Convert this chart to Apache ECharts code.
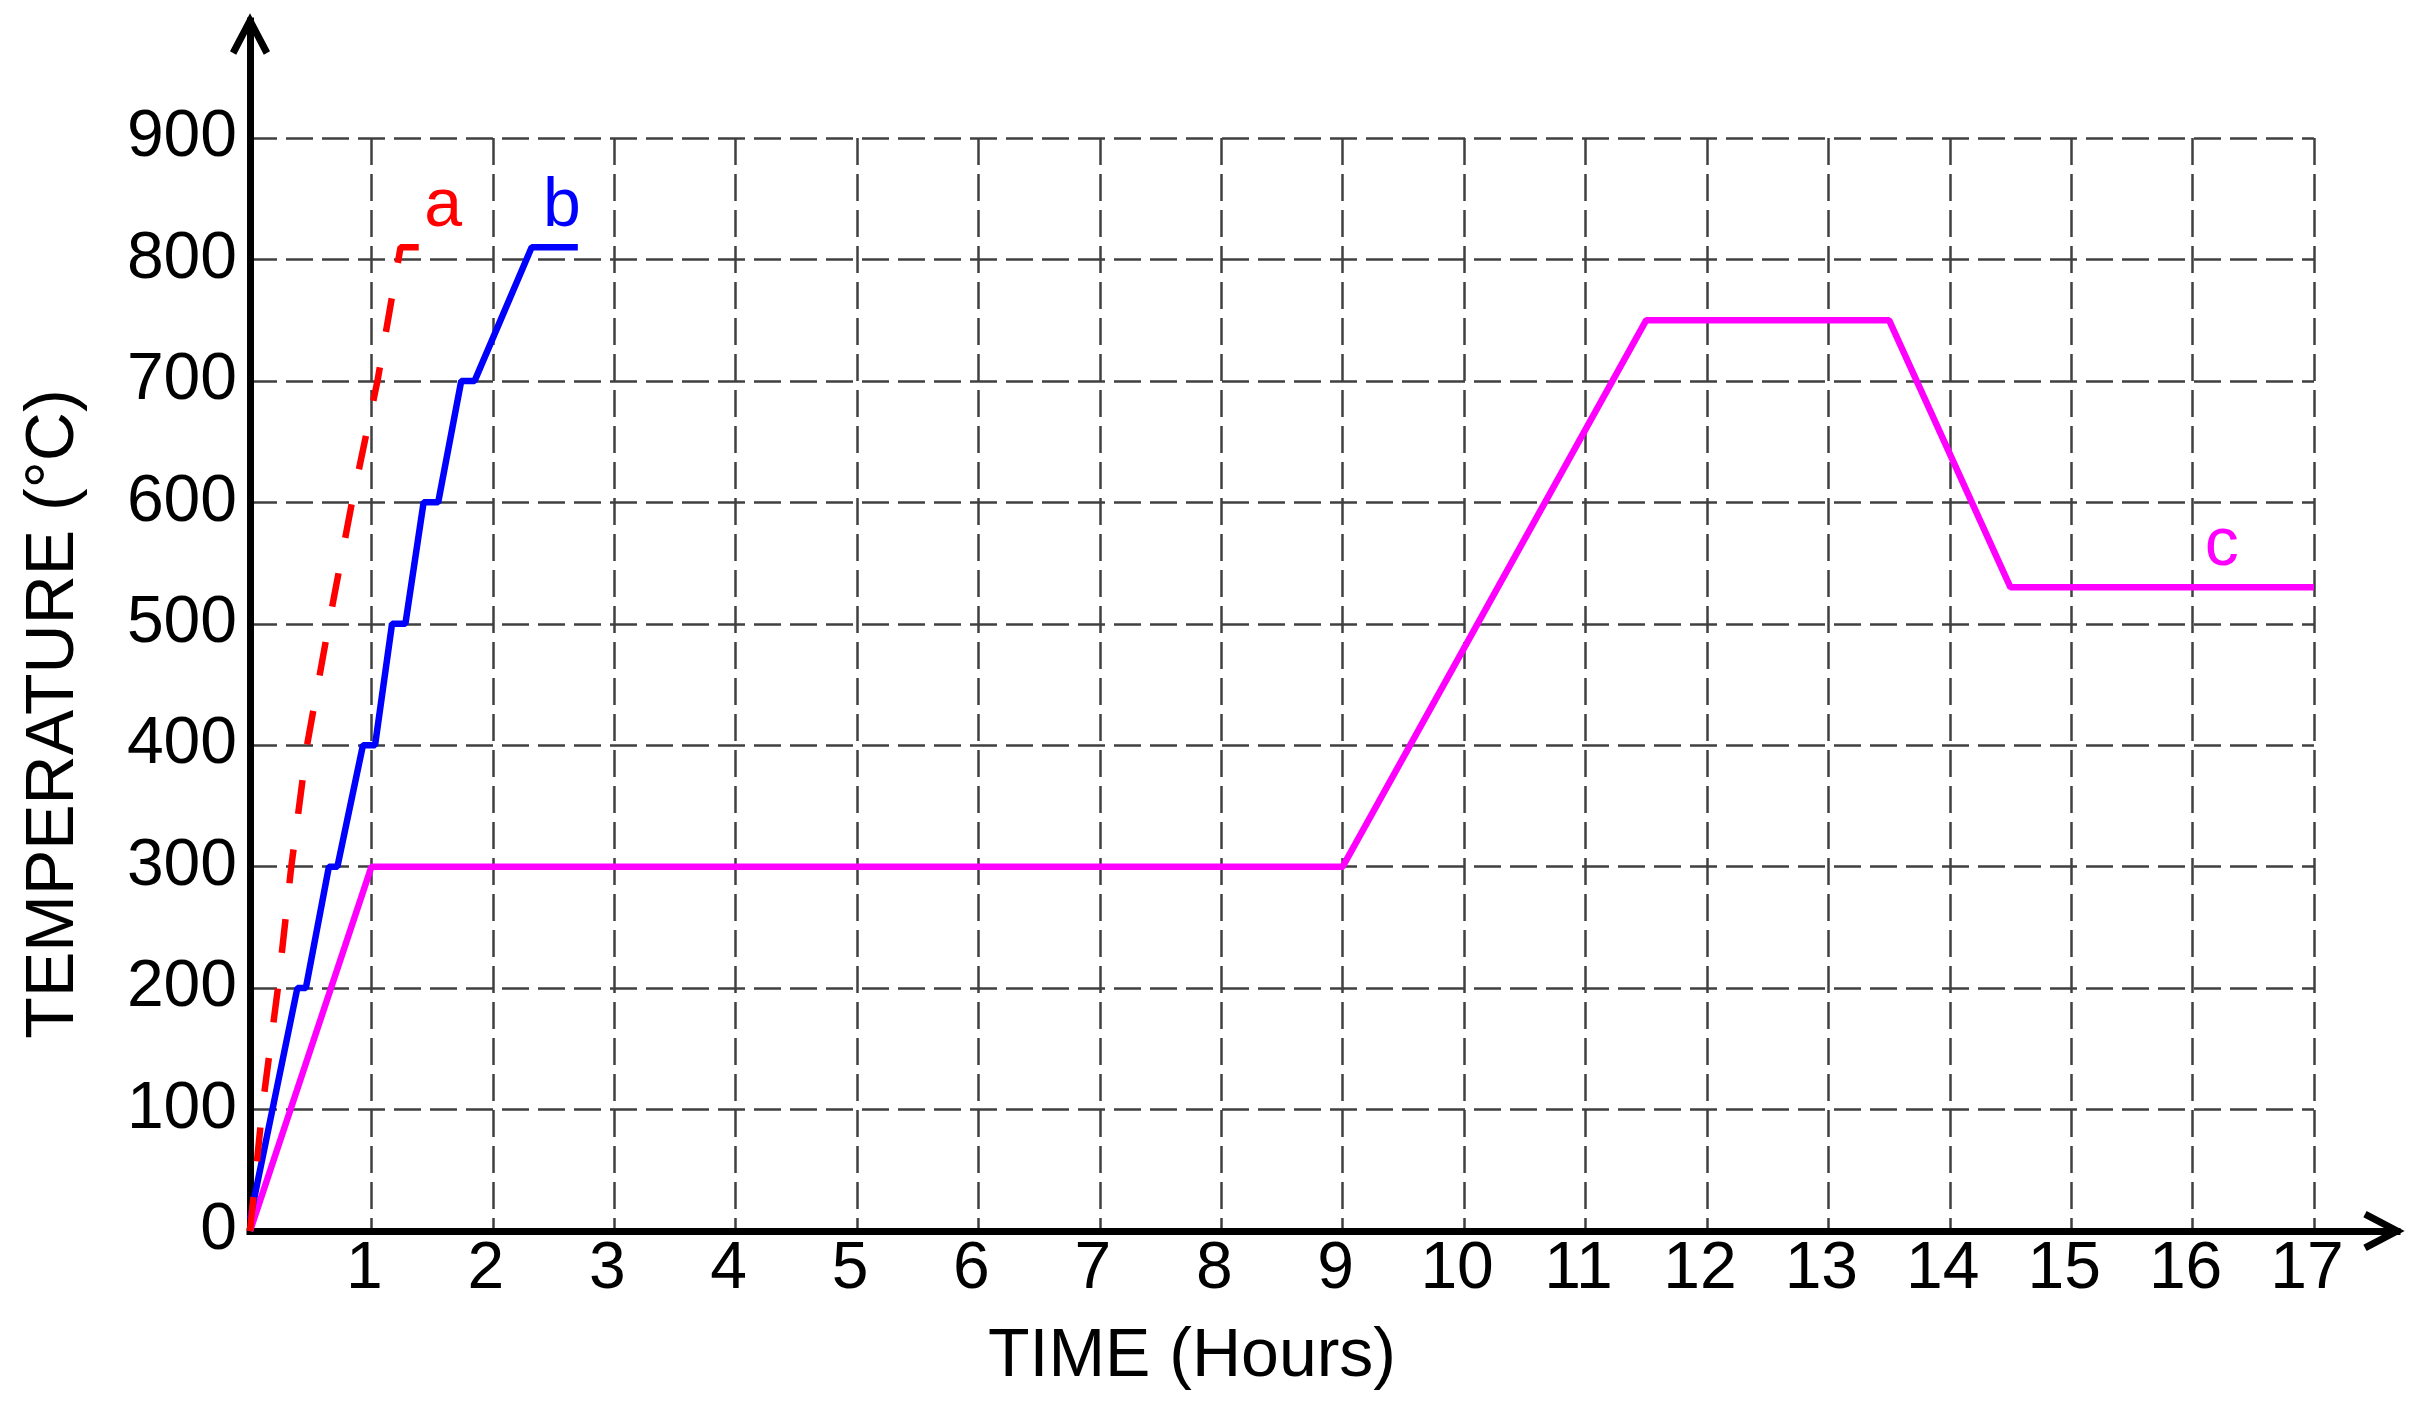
<!DOCTYPE html>
<html>
<head>
<meta charset="utf-8">
<title>Temperature vs time</title>
<script src="https://cdn.jsdelivr.net/npm/echarts@6/dist/echarts.min.js"></script>
<style>
  html, body { margin: 0; padding: 0; background: #fff; }
  #chart { width: 2422px; height: 1424px; }
</style>
</head>
<body>
<div id="chart"></div>
<script>
// [time (h), temperature (°C)]
var curveA = [[0, 0], [0.1, 100], [0.23, 200], [0.34, 300], [0.47, 400], [0.65, 500],
  [0.84, 600], [1.05, 700], [1.24, 810], [1.53, 810]];
var curveB = [[0, 10], [0.39, 200], [0.46, 200], [0.65, 300], [0.72, 300], [0.93, 400],
  [1.03, 400], [1.17, 500], [1.28, 500], [1.43, 600], [1.55, 600], [1.74, 700],
  [1.85, 700], [2.32, 810], [2.7, 810]];
var curveC = [[0, 0], [1, 300], [9, 300], [11.5, 750], [13.5, 750], [14.5, 530], [17, 530]];

var curveNames = ['a', 'b', 'c'];
var curveTagPos = [[1.59, 843], [2.57, 843], [16.24, 564]];

var xMax = 17, yMax = 900;
var xTitle = 'TIME (Hours)';
var yTitle = 'TEMPERATURE (°C)';

var FONT = 'Arial, "Liberation Sans", sans-serif';
// open chevron arrow head, pointing up
var ARROW = 'path://M20,0 L40,38 L33.8,41.3 L20,15 L6.2,41.3 L0,38 Z';

var chart = echarts.init(document.getElementById('chart'));

function curve(name, data, color, dashed, tagPos) {
  return {
    name: name,
    type: 'line',
    xAxisIndex: 0,
    yAxisIndex: 0,
    data: data,
    showSymbol: false,
    silent: true,
    lineStyle: { color: color, width: 6.5, type: dashed ? [34, 36] : 'solid', cap: 'butt' },
    markPoint: {
      symbol: 'circle',
      symbolSize: 0,
      silent: true,
      itemStyle: { color: 'transparent' },
      label: {
        show: true,
        position: 'inside',
        formatter: name,
        color: color,
        fontSize: 68,
        fontFamily: FONT
      },
      data: [{ coord: tagPos }]
    }
  };
}

var gridLine = { show: true, lineStyle: { color: '#404040', width: 2.5, type: [27, 9] } };

var option = {
  backgroundColor: '#fff',
  animation: false,
  grid: [
    { left: 250, right: 108, top: 138, bottom: 193 },
    // frame for the two arrow axes
    { left: 250, right: 25, top: 21, bottom: 193 }
  ],
  xAxis: [
    {
      type: 'value', gridIndex: 0, min: 0, max: xMax, interval: 1,
      axisLine: { show: false }, axisTick: { show: false },
      axisLabel: { showMinLabel: false, fontSize: 66, color: '#000', fontFamily: FONT, margin: 6, padding: [0, 14, 0, 0] },
      splitLine: gridLine,
      name: xTitle, nameLocation: 'middle', nameGap: 92,
      nameTextStyle: { fontSize: 68, color: '#000', fontFamily: FONT, padding: [0, 180, 0, 0] }
    },
    {
      type: 'value', gridIndex: 1, min: 0, max: 1,
      axisLine: {
        show: true, symbol: ['none', ARROW], symbolSize: [40, 42], symbolOffset: [0, -13],
        lineStyle: { color: '#000', width: 7, cap: 'square' }
      },
      axisTick: { show: false }, axisLabel: { show: false }, splitLine: { show: false }
    }
  ],
  yAxis: [
    {
      type: 'value', gridIndex: 0, min: 0, max: yMax, interval: 100,
      axisLine: { show: false }, axisTick: { show: false },
      axisLabel: { fontSize: 66, color: '#000', fontFamily: FONT, margin: 13 },
      splitLine: gridLine
    },
    {
      type: 'value', gridIndex: 1, min: 0, max: 1,
      axisLine: {
        show: true, symbol: ['none', ARROW], symbolSize: [40, 42], symbolOffset: [0, -13],
        lineStyle: { color: '#000', width: 7, cap: 'square' }
      },
      axisTick: { show: false }, axisLabel: { show: false }, splitLine: { show: false }
    }
  ],
  graphic: [
    {
      type: 'text',
      x: 54, y: 714,
      rotation: Math.PI / 2,
      style: { text: yTitle, fontSize: 68, fontFamily: FONT, fill: '#000', align: 'center', verticalAlign: 'middle' }
    }
  ],
  series: [
    curve(curveNames[2], curveC, '#ff00ff', false, curveTagPos[2]),
    curve(curveNames[1], curveB, '#0000ff', false, curveTagPos[1]),
    curve(curveNames[0], curveA, '#ff0000', true, curveTagPos[0])
  ]
};

chart.setOption(option);
</script>
</body>
</html>
